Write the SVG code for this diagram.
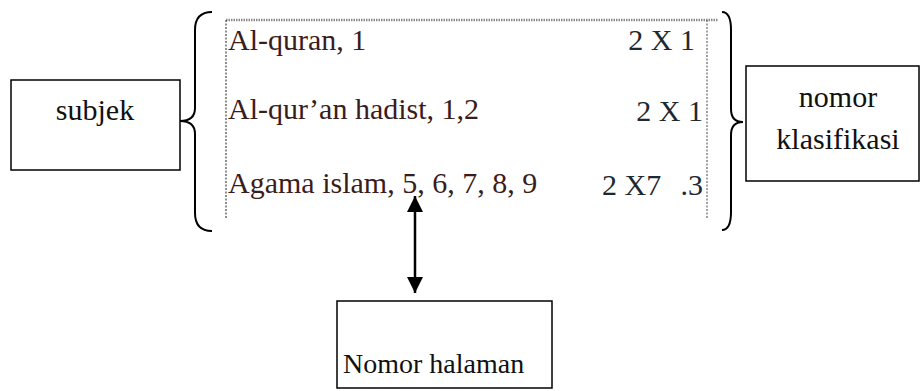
<svg xmlns="http://www.w3.org/2000/svg" width="924" height="391" viewBox="0 0 924 391">
<style>
.box{fill:#fff;stroke:#000;stroke-width:1.5}
text{font-family:'Liberation Serif',Tinos,'Times New Roman',Times,'DejaVu Serif',serif;font-size:30px}
.lbl{fill:#111}
.row{fill:#3a1c1c}
.num{fill:#1e2830}
.brace{fill:none;stroke:#000;stroke-width:2}
.conn{stroke:#000;stroke-width:2.5;fill:none}
</style>
<defs>
<marker id="ah" viewBox="0 0 10 10" refX="10" refY="5" markerWidth="6.5" markerHeight="6.5" markerUnits="strokeWidth" orient="auto-start-reverse">
<path d="M0,0 L10,5 L0,10 Z" fill="#000"/>
</marker>
</defs>
<rect width="924" height="391" fill="#fff"/>
<g id="table">
<line x1="226" y1="20" x2="718" y2="20" stroke="#8a8a8a" stroke-width="2.5" stroke-dasharray="1.5 1"/>
<line x1="226" y1="20" x2="226" y2="219" stroke="#444" stroke-width="1.2" stroke-dasharray="2 1.5"/>
<line x1="707" y1="20" x2="707" y2="219" stroke="#666" stroke-width="1.2" stroke-dasharray="2 1.5"/>
<text class="row" x="228" y="50">Al-quran, 1</text>
<text class="num" x="695" y="50" text-anchor="end">2 X 1</text>
<text class="row" x="228" y="119">Al-qur’an hadist, 1,2</text>
<text class="num" x="703" y="121" text-anchor="end">2 X 1</text>
<text class="row" x="228" y="193">Agama islam, 5, 6, 7, 8, 9</text>
<text class="num" y="195"><tspan x="602">2 X7</tspan><tspan x="703" text-anchor="end">.3</tspan></text>
</g>
<g id="brace-left">
<path class="brace" d="M212,12 Q195,12 195,30 L195,108 Q195,121 180,121 Q195,121 195,134 L195,213 Q195,231 212,231"/>
</g>
<g id="brace-right">
<path class="brace" d="M722,12 Q731,12 731,30 L731,109 Q731,122 743,122 Q731,122 731,135 L731,212 Q731,230 722,230"/>
</g>
<g id="subjek">
<rect class="box" x="11" y="80" width="169" height="90"/>
<text class="lbl" x="95" y="120" text-anchor="middle">subjek</text>
</g>
<g id="nomor-klasifikasi">
<rect class="box" x="746" y="66" width="173" height="115"/>
<text class="lbl" x="838" y="107" text-anchor="middle">nomor</text>
<text class="lbl" x="838" y="149" text-anchor="middle">klasifikasi</text>
</g>
<g id="nomor-halaman">
<rect class="box" x="337" y="301" width="215" height="87"/>
<text class="lbl" x="343" y="373" font-size="28" style="font-size:28px">Nomor halaman</text>
</g>
<g id="connectors">
<line class="conn" x1="415" y1="196" x2="415" y2="293" marker-start="url(#ah)" marker-end="url(#ah)"/>
</g>
</svg>
